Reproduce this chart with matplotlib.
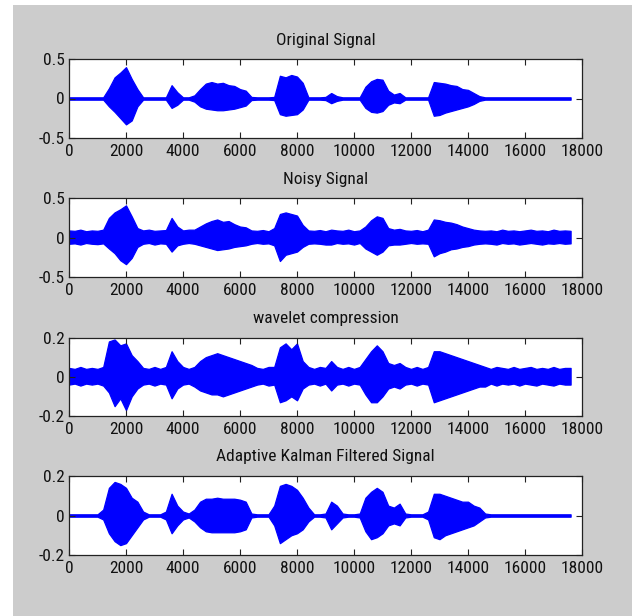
import numpy as np
import matplotlib
matplotlib.use("Agg")
import matplotlib.pyplot as plt
from matplotlib.patches import Rectangle
from matplotlib import font_manager

avail = {f.name for f in font_manager.fontManager.ttflist}
fam = [f for f in ['Liberation Sans Narrow', 'Arial Narrow', 'Roboto Condensed']
       if f in avail] + ['Liberation Sans', 'DejaVu Sans']
plt.rcParams['font.family'] = fam
plt.rcParams['axes.unicode_minus'] = False
narrow = fam[0] != 'Liberation Sans'
fsize = 12.5 if narrow else 11.5

# ---- data: signal envelopes sampled every 200 samples (0 .. 17600) ----
sample_idx = np.arange(0, 17601, 200)

titles = ["Original Signal", "Noisy Signal", "wavelet compression",
          "Adaptive Kalman Filtered Signal"]
y_limits = [0.5, 0.5, 0.2, 0.2]
x_ticks = [0, 2000, 4000, 6000, 8000, 10000, 12000, 14000, 16000, 18000]

orig_top = ([0.015] * 7 + [0.13, 0.27, 0.33, 0.40, 0.25, 0.12] + [0.015] * 5 +
            [0.17, 0.08] + [0.015] * 2 +
            [0.04, 0.12, 0.19, 0.21, 0.19, 0.20, 0.17, 0.16, 0.12, 0.10] + [0.02] +
            [0.015] * 3 + [0.02] + [0.29, 0.27, 0.30, 0.28, 0.20] + [0.015] * 3 +
            [0.02, 0.07, 0.03] + [0.015] * 4 +
            [0.15, 0.22, 0.25, 0.24, 0.10, 0.05, 0.07] + [0.015] * 5 +
            [0.21, 0.20, 0.19, 0.17, 0.16, 0.12, 0.11, 0.07, 0.03] + [0.015] * 16)
orig_bot = ([-0.015] * 7 + [-0.10, -0.17, -0.25, -0.33, -0.28, -0.10] + [-0.015] * 5 +
            [-0.12, -0.08] + [-0.015] * 2 +
            [-0.04, -0.10, -0.13, -0.14, -0.15, -0.15, -0.14, -0.13, -0.11, -0.09] + [-0.02] +
            [-0.015] * 3 + [-0.02] + [-0.20, -0.22, -0.21, -0.20, -0.14] + [-0.015] * 3 +
            [-0.02, -0.06, -0.03] + [-0.015] * 4 +
            [-0.12, -0.17, -0.18, -0.16, -0.08, -0.05, -0.06] + [-0.015] * 5 +
            [-0.22, -0.21, -0.18, -0.16, -0.14, -0.12, -0.10, -0.07, -0.03] + [-0.015] * 16)

noisy_top = [0.09, 0.085, 0.10, 0.08, 0.09, 0.085, 0.10,
             0.25, 0.32, 0.36, 0.41, 0.27, 0.12,
             0.09, 0.10, 0.085, 0.09, 0.095,
             0.25, 0.14,
             0.09, 0.10, 0.10,
             0.14, 0.18, 0.21, 0.23, 0.20, 0.21, 0.17, 0.14, 0.13,
             0.09, 0.085, 0.095, 0.08, 0.12,
             0.30, 0.32, 0.30, 0.28, 0.16,
             0.09, 0.085, 0.095, 0.08, 0.10, 0.09, 0.085, 0.10, 0.08, 0.09,
             0.14, 0.22, 0.27, 0.25, 0.12, 0.10, 0.11, 0.09,
             0.085, 0.095, 0.08, 0.10,
             0.23, 0.22, 0.20, 0.19, 0.17, 0.14, 0.12, 0.10, 0.09,
             0.085, 0.09, 0.08, 0.10, 0.085, 0.09, 0.08, 0.09, 0.10, 0.085, 0.09, 0.08, 0.10, 0.085, 0.09, 0.085]
noisy_bot = [-0.08, -0.075, -0.09, -0.07, -0.08, -0.085, -0.075,
             -0.14, -0.20, -0.29, -0.34, -0.26, -0.12,
             -0.08, -0.07, -0.09, -0.075, -0.08,
             -0.18, -0.10,
             -0.08, -0.07, -0.08,
             -0.10, -0.12, -0.14, -0.16, -0.15, -0.14, -0.12, -0.11, -0.10,
             -0.08, -0.07, -0.08, -0.075, -0.10,
             -0.30, -0.22, -0.20, -0.18, -0.12,
             -0.08, -0.075, -0.08, -0.09, -0.09, -0.07, -0.08, -0.075, -0.09, -0.07,
             -0.14, -0.18, -0.22, -0.18, -0.10, -0.09, -0.09, -0.08,
             -0.07, -0.08, -0.075, -0.08,
             -0.24, -0.20, -0.18, -0.15, -0.14, -0.12, -0.11, -0.09, -0.08,
             -0.075, -0.08, -0.09, -0.07, -0.08, -0.075, -0.09, -0.08, -0.07, -0.08, -0.09, -0.075, -0.08, -0.07, -0.08, -0.075]

wave_top = [0.045, 0.04, 0.05, 0.04, 0.045, 0.04, 0.05,
            0.18, 0.19, 0.16, 0.17, 0.11, 0.08,
            0.045, 0.04, 0.05, 0.04, 0.05,
            0.13, 0.08,
            0.05, 0.04, 0.05,
            0.08, 0.10, 0.11, 0.12, 0.11, 0.10, 0.09, 0.08, 0.07,
            0.06, 0.045, 0.04, 0.05, 0.05,
            0.15, 0.17, 0.14, 0.17, 0.08,
            0.05, 0.04, 0.05, 0.045, 0.08, 0.05, 0.04, 0.05, 0.04, 0.05,
            0.09, 0.13, 0.16, 0.13, 0.07, 0.06, 0.07, 0.05,
            0.04, 0.05, 0.04, 0.05,
            0.13, 0.13, 0.12, 0.11, 0.10, 0.09, 0.08, 0.07, 0.06,
            0.05, 0.04, 0.05, 0.045, 0.04, 0.05, 0.04, 0.045, 0.05, 0.04, 0.045, 0.04, 0.05, 0.04, 0.045, 0.045]
wave_bot = [-0.04, -0.035, -0.045, -0.035, -0.04, -0.035, -0.045,
            -0.08, -0.15, -0.11, -0.17, -0.10, -0.06,
            -0.04, -0.035, -0.045, -0.035, -0.04,
            -0.11, -0.06,
            -0.04, -0.035, -0.05,
            -0.07, -0.08, -0.09, -0.09, -0.10, -0.09, -0.08, -0.07, -0.06,
            -0.05, -0.04, -0.035, -0.045, -0.04,
            -0.13, -0.12, -0.10, -0.12, -0.06,
            -0.04, -0.035, -0.045, -0.035, -0.07, -0.04, -0.035, -0.045, -0.035, -0.04,
            -0.09, -0.13, -0.13, -0.10, -0.06, -0.05, -0.06, -0.04,
            -0.035, -0.045, -0.035, -0.04,
            -0.13, -0.12, -0.11, -0.10, -0.09, -0.08, -0.07, -0.06, -0.05,
            -0.05, -0.035, -0.045, -0.035, -0.04, -0.035, -0.045, -0.035, -0.04, -0.045, -0.035, -0.04, -0.045, -0.035, -0.04, -0.04]

kal_top = ([0.006] * 6 + [0.03, 0.14, 0.17, 0.16, 0.14, 0.09, 0.07, 0.02] + [0.006] * 3 +
           [0.02, 0.11, 0.05, 0.02, 0.01] +
           [0.03, 0.07, 0.085, 0.085, 0.09, 0.085, 0.085, 0.085, 0.08, 0.07, 0.01] + [0.006] * 3 +
           [0.05, 0.15, 0.16, 0.15, 0.13, 0.09, 0.04] + [0.006] * 2 +
           [0.01, 0.07, 0.05, 0.01] + [0.006] * 2 +
           [0.01, 0.09, 0.12, 0.14, 0.12, 0.05, 0.04, 0.06, 0.01] + [0.006] * 3 +
           [0.02, 0.11, 0.11, 0.10, 0.09, 0.08, 0.07, 0.07, 0.05, 0.04, 0.01] + [0.006] * 15)
kal_bot = ([-0.006] * 6 + [-0.02, -0.09, -0.13, -0.15, -0.14, -0.10, -0.06, -0.02] + [-0.006] * 3 +
           [-0.02, -0.09, -0.05, -0.02, -0.01] +
           [-0.03, -0.06, -0.08, -0.085, -0.085, -0.085, -0.085, -0.085, -0.08, -0.07, -0.01] + [-0.006] * 3 +
           [-0.05, -0.14, -0.12, -0.10, -0.09, -0.07, -0.03] + [-0.006] * 2 +
           [-0.01, -0.07, -0.04, -0.01] + [-0.006] * 2 +
           [-0.01, -0.08, -0.12, -0.11, -0.09, -0.05, -0.04, -0.05, -0.01] + [-0.006] * 3 +
           [-0.02, -0.11, -0.12, -0.10, -0.09, -0.08, -0.07, -0.06, -0.05, -0.03, -0.01] + [-0.006] * 15)

series = [(orig_top, orig_bot), (noisy_top, noisy_bot),
          (wave_top, wave_bot), (kal_top, kal_bot)]

# ---- figure ----
W, H = 632, 616
fig = plt.figure(figsize=(W / 100, H / 100), dpi=100, facecolor='white')
fig.add_artist(Rectangle((13 / W, 0), 1 - 13 / W, (H - 5) / H,
                         transform=fig.transFigure, facecolor='#cccccc',
                         edgecolor='none', zorder=-10))

ax_left, ax_right = 69, 582
panel_tb = [(59.3, 137.7), (198.3, 276.7), (337.5, 416.0), (476.0, 555.0)]
blue = '#0000ff'
text_col = '#111111'

for i, (top_px, bot_px) in enumerate(panel_tb):
    ax = fig.add_axes([ax_left / W, 1 - bot_px / H, (ax_right - ax_left) / W,
                       (bot_px - top_px) / H])
    ax.set_facecolor('white')
    t, b = series[i]
    ax.fill_between(sample_idx, b, t, color=blue, linewidth=0.9, edgecolor=blue)
    lim = y_limits[i]
    ax.set_xlim(0, 18000)
    ax.set_ylim(-lim, lim)
    ax.set_xticks(x_ticks)
    ax.set_xticklabels([str(v) for v in x_ticks])
    ax.set_yticks([-lim, 0, lim])
    ax.set_yticklabels([f"{-lim:g}", "0", f"{lim:g}"])
    ax.tick_params(direction='in', top=True, right=True, length=4.3, width=0.8,
                   color='#222222', labelsize=fsize, labelcolor=text_col)
    ax.tick_params(axis='x', pad=4.5)
    ax.tick_params(axis='y', pad=3)
    for sp in ax.spines.values():
        sp.set_color('#222222')
        sp.set_linewidth(0.9)
    ax.set_title(titles[i], fontsize=fsize, color=text_col, pad=10.5)

fig.savefig("out.png", dpi=100, facecolor=fig.get_facecolor())
